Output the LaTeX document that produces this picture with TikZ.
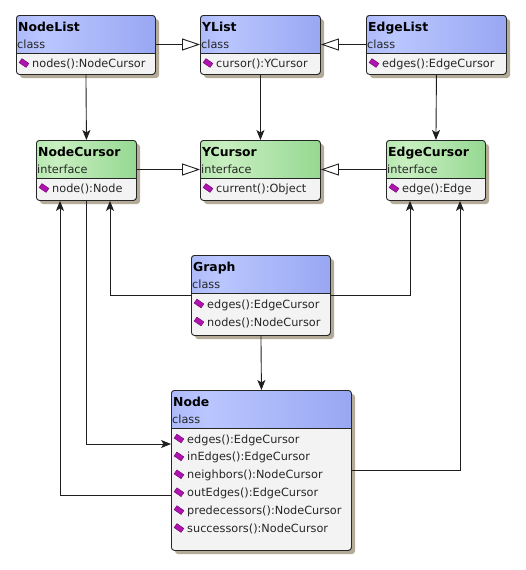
\documentclass[tikz,border=0pt]{standalone}
\usepackage{fontspec}
\setmainfont{DejaVu Sans}
\usetikzlibrary{arrows.meta}
\definecolor{shadowc}{HTML}{B3AB98}
\definecolor{bodyc}{HTML}{F3F3F3}
\definecolor{cla}{HTML}{8E9EF0}
\definecolor{clb}{HTML}{BAC6FE}
\definecolor{clc}{HTML}{8494EC}
\definecolor{ifa}{HTML}{8CD68A}
\definecolor{ifb}{HTML}{C8EFC0}
\definecolor{ifc}{HTML}{76CA76}
\definecolor{iconc}{HTML}{B014B0}
\definecolor{iconb}{HTML}{700070}
\definecolor{linec}{HTML}{1E1E1E}
\pgfdeclarehorizontalshading{classshade}{100bp}{color(0bp)=(cla); color(35bp)=(clb); color(100bp)=(clc)}
\pgfdeclarehorizontalshading{ifshade}{100bp}{color(0bp)=(ifa); color(35bp)=(ifb); color(100bp)=(ifc)}
\newcommand\titlefont{\bfseries\fontsize{12.4}{14}\selectfont}
\newcommand\bodyfont{\fontsize{11.3}{13}\selectfont}
\newcommand\umlbox[8]{%
  \fill[shadowc, rounded corners=3pt] (#2+4,#3+4) rectangle (#4+4,#5+4);
  \fill[bodyc, rounded corners=3pt] (#2,#3) rectangle (#4,#5);
  \shade[shading=#6] (#2,#3+38) [rounded corners=3pt] -- (#2,#3) -- (#4,#3) [sharp corners] -- (#4,#3+38) -- cycle;
  \draw[boxline] (#2,#3+38) -- (#4,#3+38);
  \node[boxline, draw, rounded corners=3pt, inner sep=0pt, anchor=north west,
        minimum width={#4-#2}, minimum height={#5-#3}] (#1) at (#2,#3) {};
  \node[anchor=base west, inner sep=0pt, font=\titlefont] at (#2+2,#3+16) {#7};
  \node[anchor=base west, inner sep=0pt, font=\bodyfont, text=black!85] at (#2+1,#3+33) {#8};
}
\newcommand\umlrow[3]{%
  \filldraw[fill=iconc, draw=iconb, line width=0.4pt]
    (#1+8+2.1,#2+4.4) -- (#1+8+4.9,#2+0.4) -- (#1+8-2.1,#2-4.4) -- (#1+8-4.9,#2-0.4) -- cycle;
  \node[anchor=base west, inner sep=0pt, font=\bodyfont, text=black!85] at (#1+16,#2+4.5) {#3};
}
\tikzset{
  boxline/.style={draw=black!85, line width=0.9pt},
  gen/.style={draw=linec, line width=1.1pt, -{Triangle[length=18pt, width=12pt, fill=white, line width=0.9pt]}},
  assoc/.style={draw=linec, line width=0.9pt, -{Stealth[length=10pt, width=8pt, inset=2.5pt]}}
}
\begin{document}
\begin{tikzpicture}[x=1pt, y=-1pt]
\useasboundingbox (0,0) rectangle (525,570);
% boxes
\umlbox{NodeList}{16}{15}{155}{74}{classshade}{NodeList}{class}
\umlrow{16}{63}{nodes():NodeCursor}
\umlbox{YList}{200}{15}{320}{74}{classshade}{YList}{class}
\umlrow{200}{63}{cursor():YCursor}
\umlbox{EdgeList}{366}{15}{506}{74}{classshade}{EdgeList}{class}
\umlrow{366}{63}{edges():EdgeCursor}
\umlbox{NodeCursor}{36}{140}{136}{200}{ifshade}{NodeCursor}{interface}
\umlrow{36}{188}{node():Node}
\umlbox{YCursor}{200}{140}{320}{200}{ifshade}{YCursor}{interface}
\umlrow{200}{188}{current():Object}
\umlbox{EdgeCursor}{386}{140}{485}{200}{ifshade}{EdgeCursor}{interface}
\umlrow{386}{188}{edge():Edge}
\umlbox{Graph}{191}{255}{330}{335}{classshade}{Graph}{class}
\umlrow{191}{303.5}{edges():EdgeCursor}
\umlrow{191}{321.5}{nodes():NodeCursor}
\umlbox{Node}{171}{390}{351}{550}{classshade}{Node}{class}
\umlrow{171}{438.5}{edges():EdgeCursor}
\umlrow{171}{456.4}{inEdges():EdgeCursor}
\umlrow{171}{474.3}{neighbors():NodeCursor}
\umlrow{171}{492.2}{outEdges():EdgeCursor}
\umlrow{171}{510.1}{predecessors():NodeCursor}
\umlrow{171}{528}{successors():NodeCursor}
% generalizations
\draw[gen] ([yshift=-29.5pt]NodeList.north east) -- ([yshift=-29.5pt]YList.north west);
\draw[gen] ([yshift=-29.5pt]EdgeList.north west) -- ([yshift=-29.5pt]YList.north east);
\draw[gen] ([yshift=-29.5pt]NodeCursor.north east) -- ([yshift=-29.5pt]YCursor.north west);
\draw[gen] ([yshift=-29.5pt]EdgeCursor.north west) -- ([yshift=-29.5pt]YCursor.north east);
% associations
\draw[assoc] (NodeList.south) -- (NodeCursor.north);
\draw[assoc] (YList.south) -- (YCursor.north);
\draw[assoc] (EdgeList.south) -- (EdgeCursor.north);
\draw[assoc] (Graph.south) -- (Node.north);
\draw[assoc] ([yshift=-40pt]Graph.north west) -| ([xshift=74pt]NodeCursor.south west);
\draw[assoc] ([yshift=-40pt]Graph.north east) -| ([xshift=24pt]EdgeCursor.south west);
\draw[assoc] (NodeCursor.south) |- ([yshift=-54pt]Node.north west);
\draw[assoc] ([yshift=-105pt]Node.north west) -| ([xshift=24pt]NodeCursor.south west);
\draw[assoc] ([yshift=-80pt]Node.north east) -| ([xshift=74pt]EdgeCursor.south west);
\end{tikzpicture}
\end{document}
